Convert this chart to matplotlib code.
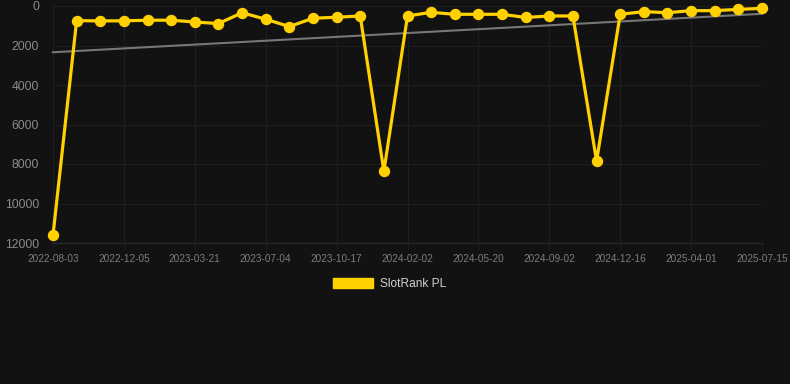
import numpy as np
import matplotlib
matplotlib.use("Agg")
import matplotlib.pyplot as plt
from matplotlib.patches import Patch

# SlotRank PL rank, one point per period (lower is better)
ranks = [11600, 740, 755, 750, 720, 720, 810, 890, 340, 670,
         1040, 620, 570, 505, 8370, 505, 320, 420, 420, 420,
         580, 505, 505, 7850, 420, 285, 340, 235, 235, 170, 120]
tick_labels = ["2022-08-03", "2022-12-05", "2023-03-21", "2023-07-04",
               "2023-10-17", "2024-02-02", "2024-05-20", "2024-09-02",
               "2024-12-16", "2025-04-01", "2025-07-15"]
y_ticks = [0, 2000, 4000, 6000, 8000, 10000, 12000]

bg = "#121212"
yellow = "#FFD100"
plt.rcParams["font.family"] = ["Liberation Sans", "DejaVu Sans"]

x = np.arange(len(ranks))
slope, icpt = np.polyfit(x, ranks, 1)
trend = slope * x + icpt

fig = plt.figure(figsize=(7.9, 3.84), dpi=100, facecolor=bg)
ax = fig.add_axes([53 / 790, 1 - 243 / 384, (762 - 53) / 790, (243 - 6) / 384])
ax.set_facecolor(bg)

ax.plot(x, trend, color="#777777", lw=1.5, zorder=2)
ax.plot(x, ranks, color=yellow, lw=2.3, marker="o", ms=7.2,
        markerfacecolor=yellow, markeredgecolor=yellow, zorder=3,
        solid_joinstyle="miter")

ax.set_ylim(12000, 0)
ax.set_xlim(0, len(ranks) - 1)
ax.set_yticks(y_ticks)
ax.set_yticklabels([str(v) for v in y_ticks])
ax.set_xticks(x[::3])
ax.set_xticklabels(tick_labels)

ax.grid(True, color="#1e1e1e", lw=0.8)
ax.set_axisbelow(True)
for s in ["top", "right", "left"]:
    ax.spines[s].set_visible(False)
ax.spines["bottom"].set_color("#2b2b2b")
ax.tick_params(axis="y", length=0, pad=10, labelsize=8.8, labelcolor="#8a8a8a")
ax.tick_params(axis="x", length=5, color="#1e1e1e", pad=3, labelsize=7.2,
               labelcolor="#7d7d7d")
for ln in ax.lines:
    ln.set_clip_on(False)

fig.legend(handles=[Patch(facecolor=yellow, edgecolor=yellow, label="SlotRank PL")],
           loc="center", bbox_to_anchor=(389.5 / 790, 1 - 284 / 384), frameon=False,
           handlelength=3.3, handleheight=1.0, handletextpad=0.6,
           fontsize=8.6, labelcolor="#d0d0d0")

fig.savefig("out.png", dpi=100, facecolor=bg)
